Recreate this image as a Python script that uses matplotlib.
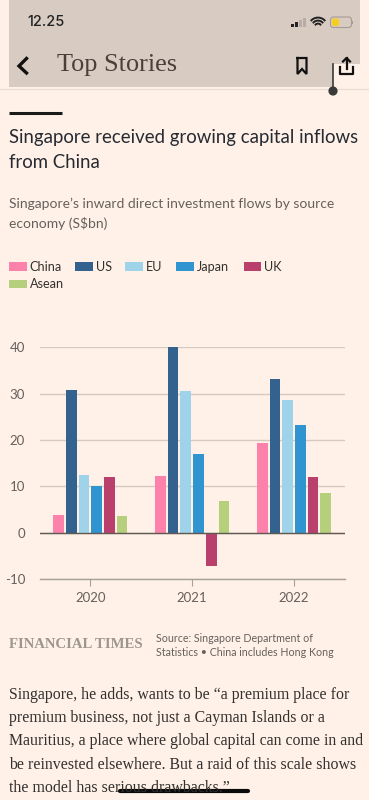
import matplotlib
matplotlib.use("Agg")
import matplotlib.pyplot as plt
from matplotlib.patches import Rectangle, Circle, FancyBboxPatch
import numpy as np

years = ["2020", "2021", "2022"]
series_names = ["China", "US", "EU", "Japan", "UK", "Asean"]
china = [3.8, 12.2, 19.3]
us = [30.7, 40.0, 33.2]
eu = [12.5, 30.6, 28.7]
japan = [10.1, 17.0, 23.3]
uk = [12.0, -7.3, 12.0]
asean = [3.5, 6.9, 8.5]
series = [china, us, eu, japan, uk, asean]
yticks = [-10, 0, 10, 20, 30, 40]

bg = "#fff1e7"
head = "#d8cbc2"
ink = "#33302e"
grey = "#66605c"
colors = ["#fd82ab", "#33628f", "#9fd3e9", "#3094d0", "#b93f6c", "#b5cf7c"]
sans = "Lato"

W, H = 369, 800
fig = plt.figure(figsize=(W / 100, H / 100), dpi=100, facecolor=bg)

# page furniture drawn in pixel coordinates
bgax = fig.add_axes([0, 0, 1, 1])
bgax.set_xlim(0, W)
bgax.set_ylim(H, 0)
bgax.axis("off")

bgax.add_patch(Rectangle((9, 0), 351, 64, fc=head, ec="none"))
bgax.add_patch(Rectangle((9, 64), 324, 23.3, fc=head, ec="none"))
bgax.plot([0, W], [89.3, 89.3], color="#e8dbd0", lw=0.8, zorder=1)
bgax.plot([333, 333], [64, 91], color="#3a3a3a", lw=1.2, zorder=5)
bgax.add_patch(Circle((333, 91), 4.6, fc="#3a3a3a", ec="none", zorder=5))
bgax.plot([9, 62], [113.3, 113.3], color="#1a1a1a", lw=2.2, solid_capstyle="butt")

bgax.text(27.5, 22.5, "12.25", fontsize=10.4, family="Inter", weight="medium",
          color="#222222", va="center", ha="left")

# signal bars
for bx, bh, c in zip([291, 295, 299, 303], [3, 5, 7, 9],
                     ["#222222", "#222222", "#b8aca4", "#b8aca4"]):
    bgax.add_patch(Rectangle((bx, 27 - bh), 3, bh, fc=c, ec="none"))
# wifi
theta = np.linspace(np.radians(45), np.radians(135), 20)
for r in [3.4, 6.4, 9.4]:
    bgax.plot(318 + r * np.cos(theta), 27 - r * np.sin(theta), color="#222222", lw=1.4)
# battery
bgax.add_patch(FancyBboxPatch((330.5, 17), 21, 10.5, boxstyle="round,pad=0,rounding_size=2.8",
                              fc="none", ec="#a89c92", lw=0.8))
bgax.add_patch(FancyBboxPatch((332, 18.6), 7, 7.4, boxstyle="round,pad=0,rounding_size=2",
                              fc="#f5cf1e", ec="none"))
bgax.add_patch(Rectangle((352, 20.5), 1, 3.5, fc="#a89c92", ec="none"))

bgax.plot([26.5, 19, 26.5], [58.5, 66, 73], color="#111111", lw=2.4, solid_joinstyle="miter")
bgax.text(57, 64.5, "Top Stories", fontsize=18.9, family="Liberation Serif",
          color="#4a4039", va="center", ha="left")
bgax.plot([297.5, 297.5, 302, 306.5, 306.5, 297.5], [58, 74, 69, 74, 58, 58],
          color="#111111", lw=1.6, solid_joinstyle="miter")
bgax.plot([340, 340, 353, 353], [67, 74, 74, 67], color="#111111", lw=1.6)
bgax.plot([346.5, 346.5], [58, 69], color="#111111", lw=1.6)
bgax.plot([343, 346.5, 350], [61.5, 58, 61.5], color="#111111", lw=1.6)

bgax.text(9, 137, "Singapore received growing capital inflows", fontsize=13.4, family=sans,
          color="#262a33", va="center", ha="left")
bgax.text(9, 163, "from China", fontsize=13.4, family=sans,
          color="#262a33", va="center", ha="left")
bgax.text(9, 204, "Singapore\u2019s inward direct investment flows by source", fontsize=10,
          family=sans, color=grey, va="center", ha="left")
bgax.text(9, 224, "economy (S$bn)", fontsize=10, family=sans, color=grey,
          va="center", ha="left")

# legend
legend_pos = [(9, 266.7), (75, 266.7), (125, 266.7), (176, 266.7), (243.7, 266.7), (9, 284)]
for name, c, (lx, ly) in zip(series_names, colors, legend_pos):
    bgax.add_patch(Rectangle((lx, ly - 4.3), 17.7, 8.7, fc=c, ec="none"))
    bgax.text(lx + 20.7, ly, name, fontsize=9.1, family=sans, color=ink,
              va="center", ha="left")

# footer
bgax.text(9, 644, "FINANCIAL TIMES", fontsize=10.6, family="Liberation Serif", weight="bold",
          color="#9d968e", va="center", ha="left")
bgax.text(156, 639, "Source: Singapore Department of", fontsize=7.7, family=sans,
          color=grey, va="center", ha="left")
bgax.text(156, 653, "Statistics \u2022 China includes Hong Kong", fontsize=7.7, family=sans,
          color=grey, va="center", ha="left")

body = ["Singapore, he adds, wants to be \u201ca premium place for",
        "premium business, not just a Cayman Islands or a",
        "Mauritius, a place where global capital can come in and",
        "be reinvested elsewhere. But a raid of this scale shows",
        "the model has serious drawbacks.\u201d"]
for i, line in enumerate(body):
    bgax.text(9, 695 + i * 23.2, line, fontsize=11.4, family="Liberation Serif", color="#33302e",
              va="center", ha="left")
bgax.plot([120, 248], [790.5, 790.5], color="#0a0a0a", lw=3, solid_capstyle="round")

# the chart itself
left, right = 39.7, 345
y40, ym10 = 347.3, 579
ax = fig.add_axes([left / W, 1 - ym10 / H, (right - left) / W, (ym10 - y40) / H])
ax.patch.set_alpha(0)
x = np.arange(len(years))
step = 0.1245
width = 0.105
for i in range(len(series)):
    ax.bar(x + (i - 2.5) * step, series[i], width=width, color=colors[i], zorder=3)

ax.set_ylim(-10, 40)
ax.set_xlim((left - 90.3) / 101.85, (right - 90.3) / 101.85)
ax.set_yticks(yticks)
ax.set_yticklabels([str(t) for t in yticks], family=sans, fontsize=9.5, color=grey)
ax.set_xticks(x)
ax.set_xticklabels(years, family=sans, fontsize=9.5, color=grey)
ax.grid(axis="y", color="#d6cac0", lw=1, zorder=0)
ax.axhline(0, color="#5f5954", lw=1, zorder=4)
ax.tick_params(axis="y", length=0, pad=10.5)
ax.tick_params(axis="x", length=5, width=0.8, color="#a89f97", pad=4)
for s in ["top", "left", "right"]:
    ax.spines[s].set_visible(False)
ax.spines["bottom"].set_color("#a89f97")
ax.spines["bottom"].set_linewidth(1)

fig.savefig("out.png", dpi=100, facecolor=bg)
